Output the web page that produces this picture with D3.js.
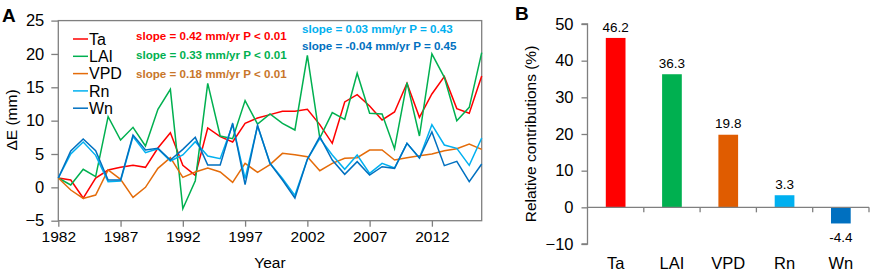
<!DOCTYPE html>
<html>
<head>
    <meta charset="utf-8" />
    <script src="https://d3js.org/d3.v7.min.js"></script>
    <style>
        body { margin: 0; background: #fff; }
        svg { font-family: "Liberation Sans", Arial, sans-serif; }
        .axis path, .axis line { stroke: #7f7f7f; stroke-width: 1.3; }
        .axis text { font-size: 15.5px; fill: #000; }
    </style>
</head>
<body>
    <div id="chart"></div>
    <script>
        // panel A data
        const years = d3.range(1982, 2017);
        const ta = [1.4, 1.1, -1.6, 1.4, 2.6, 3.0, 3.3, 3.0, 5.9, 8.2, 3.3, 1.8, 8.9, 7.6, 6.8, 9.6, 10.4, 10.9, 11.4, 11.4,
            11.7, 9.4, 6.6, 12.8, 13.9, 12.2, 10.1, 11.3, 15.6, 10.5, 14.0, 16.6, 11.8, 11.1, 16.7];
        const lai = [1.4, 0.35, 2.7, 1.6, 10.6, 7.1, 9.0, 6.2, 11.7, 14.7, -3.2, 1.0, 15.6, 7.7, 7.3, 13.0, 9.5, 11.0, 9.6, 8.6,
            19.8, 7.4, 11.2, 10.2, 17.1, 11.1, 11.0, 5.8, 15.7, 7.7, 20.0, 16.5, 10.0, 12.0, 20.2];
        const vpd = [1.4, -0.4, -1.65, -1.15, 2.6, 1.2, -1.5, 0.0, 2.85, 4.45, 1.5, 2.3, 2.9, 2.3, 0.75, 3.6, 2.25, 3.4, 5.1, 4.9,
            4.6, 2.5, 3.6, 4.35, 4.45, 5.6, 5.6, 4.1, 4.45, 4.75, 5.0, 5.5, 5.8, 6.5, 5.7];
        const rn = [1.4, 5.0, 6.8, 4.8, 0.85, 0.95, 7.6, 5.2, 5.8, 3.95, 4.85, 6.85, 4.7, 4.3, 9.4, 1.3, 9.2, 3.6, 1.35, -1.2,
            4.2, 7.35, 4.85, 2.7, 4.85, 2.1, 3.6, 2.9, 6.6, 4.4, 9.4, 6.35, 5.85, 3.3, 7.4];
        const wn = [1.4, 5.45, 7.25, 5.5, 1.1, 1.1, 7.85, 5.6, 5.85, 4.1, 5.7, 7.5, 3.35, 3.35, 9.6, 0.4, 9.3, 3.6, 1.1, -1.6,
            4.2, 7.6, 4.1, 1.95, 3.85, 1.85, 3.1, 2.85, 6.6, 4.4, 8.3, 3.25, 3.9, 0.85, 3.5];
        const yearTicks = [1982, 1987, 1992, 1997, 2002, 2007, 2012];
        const deTicks = [-5, 0, 5, 10, 15, 20, 25];

        // panel B data
        const drivers = ["Ta", "LAI", "VPD", "Rn", "Wn"];
        const contrib = [46.2, 36.3, 19.8, 3.3, -4.4];
        const contribTicks = [-10, 0, 10, 20, 30, 40, 50];

        const colors = {
            Ta: "#ff0000", LAI: "#00b050", VPD: "#e46c0a", Rn: "#00b0f0", Wn: "#0070c0"
        };
        const series = [
            { name: "Ta", values: ta },
            { name: "LAI", values: lai },
            { name: "VPD", values: vpd },
            { name: "Rn", values: rn },
            { name: "Wn", values: wn }
        ];
        const slopes = [
            { text: "slope = 0.42 mm/yr P < 0.01", color: "#ff0000", x: 136, y: 36 },
            { text: "slope = 0.33 mm/yr P < 0.01", color: "#00b050", x: 136, y: 54.5 },
            { text: "slope = 0.18 mm/yr P < 0.01", color: "#c8762a", x: 136, y: 74 },
            { text: "slope = 0.03 mm/yr P = 0.43", color: "#00b0f0", x: 302, y: 28.5 },
            { text: "slope = -0.04 mm/yr P = 0.45", color: "#0070c0", x: 302, y: 45.5 }
        ];

        const svg = d3.select("#chart")
            .append("svg")
            .attr("width", 872)
            .attr("height", 271);

        // ---------- panel A ----------
        const xA = d3.scaleLinear().domain([1982, 2016]).range([58.3, 481.7]);
        const yA = d3.scaleLinear().domain([-5, 25]).range([220.7, 20.6]);

        const gA = svg.append("g");

        // frame
        gA.append("rect")
            .attr("x", xA(1982)).attr("y", yA(25))
            .attr("width", xA(2016) - xA(1982))
            .attr("height", yA(-5) - yA(25))
            .attr("fill", "none")
            .attr("stroke", "#7f7f7f")
            .attr("stroke-width", 1.3);

        gA.append("g")
            .attr("class", "axis")
            .attr("transform", `translate(0, ${yA(-5)})`)
            .call(d3.axisBottom(xA).tickValues(yearTicks).tickFormat(d3.format("d")).tickSize(6).tickPadding(4))
            .call(g => g.select(".domain").remove());

        gA.append("g")
            .attr("class", "axis")
            .attr("transform", `translate(${xA(1982)}, 0)`)
            .call(d3.axisLeft(yA).tickValues(deTicks).tickSize(7).tickPadding(7))
            .call(g => g.select(".domain").remove())
            .selectAll("text").style("font-size", "16.5px");

        const line = d3.line()
            .x((d, i) => xA(years[i]))
            .y(d => yA(d));

        gA.selectAll(".series")
            .data(series)
            .enter().append("path")
            .attr("class", "series")
            .attr("d", d => line(d.values))
            .attr("fill", "none")
            .attr("stroke", d => colors[d.name])
            .attr("stroke-width", 1.5)
            .attr("stroke-linejoin", "miter");

        // legend
        const legend = gA.selectAll(".leg")
            .data(series)
            .enter().append("g")
            .attr("class", "leg")
            .attr("transform", (d, i) => `translate(73, ${39 + i * 17.3})`);
        legend.append("line")
            .attr("x1", 0).attr("x2", 15)
            .attr("stroke", d => colors[d.name])
            .attr("stroke-width", 1.5);
        legend.append("text")
            .attr("x", 16)
            .attr("dy", "0.35em")
            .style("font-size", "16px")
            .text(d => d.name);

        gA.selectAll(".slope")
            .data(slopes)
            .enter().append("text")
            .attr("class", "slope")
            .attr("x", d => d.x)
            .attr("y", d => d.y)
            .attr("dy", "0.35em")
            .attr("fill", d => d.color)
            .style("font-size", "11.6px")
            .style("font-weight", "bold")
            .text(d => d.text);

        // labels
        svg.append("text")
            .attr("x", 2).attr("y", 22)
            .style("font-size", "19px").style("font-weight", "bold")
            .text("A");
        svg.append("text")
            .attr("x", 270).attr("y", 263)
            .attr("dy", "0.35em")
            .style("text-anchor", "middle")
            .style("font-size", "15.5px")
            .text("Year");
        svg.append("text")
            .attr("transform", "translate(12, 120) rotate(-90)")
            .attr("dy", "0.35em")
            .style("text-anchor", "middle")
            .style("font-size", "15.5px")
            .text("ΔE (mm)");

        // ---------- panel B ----------
        const xB = d3.scaleBand().domain(drivers).range([587.5, 869]).padding(0);
        const yB = d3.scaleLinear().domain([-10, 50]).range([244, 24]);
        const barW = xB.bandwidth() * 0.35;

        const gB = svg.append("g");

        gB.append("g")
            .attr("class", "axis")
            .attr("transform", `translate(587.5, 0)`)
            .call(d3.axisLeft(yB).tickValues(contribTicks).tickSize(6).tickPadding(8))
            .call(g => g.select(".domain").attr("d", `M-6,${yB(50)}H0V${yB(-10)}H-6`))
            .selectAll("text").style("font-size", "16.5px");

        gB.selectAll(".bar")
            .data(contrib)
            .enter().append("rect")
            .attr("class", "bar")
            .attr("x", (d, i) => xB(drivers[i]) + (xB.bandwidth() - barW) / 2)
            .attr("y", d => yB(Math.max(0, d)))
            .attr("width", barW)
            .attr("height", d => Math.abs(yB(d) - yB(0)))
            .attr("fill", (d, i) => i === 2 ? "#e05c00" : colors[drivers[i]]);

        // zero line with ticks between categories
        gB.append("line")
            .attr("x1", 587.5).attr("x2", 869)
            .attr("y1", yB(0)).attr("y2", yB(0))
            .attr("stroke", "#7f7f7f").attr("stroke-width", 1.3);
        gB.selectAll(".ztick")
            .data(drivers)
            .enter().append("line")
            .attr("class", "ztick")
            .attr("x1", d => xB(d) + xB.bandwidth())
            .attr("x2", d => xB(d) + xB.bandwidth())
            .attr("y1", yB(0)).attr("y2", yB(0) + 5)
            .attr("stroke", "#7f7f7f").attr("stroke-width", 1.3);

        gB.selectAll(".val")
            .data(contrib)
            .enter().append("text")
            .attr("class", "val")
            .attr("x", (d, i) => xB(drivers[i]) + xB.bandwidth() / 2)
            .attr("y", d => d >= 0 ? yB(d) - 11 : yB(d) + 14)
            .attr("dy", "0.35em")
            .style("text-anchor", "middle")
            .style("font-size", "13.5px")
            .text(d => d.toFixed(1));

        gB.selectAll(".cat")
            .data(drivers)
            .enter().append("text")
            .attr("class", "cat")
            .attr("x", d => xB(d) + xB.bandwidth() / 2)
            .attr("y", 263)
            .attr("dy", "0.35em")
            .style("text-anchor", "middle")
            .style("font-size", "16.5px")
            .text(d => d);

        svg.append("text")
            .attr("x", 515).attr("y", 20)
            .style("font-size", "19px").style("font-weight", "bold")
            .text("B");
        svg.append("text")
            .attr("transform", "translate(531, 134) rotate(-90)")
            .attr("dy", "0.35em")
            .style("text-anchor", "middle")
            .style("font-size", "15.5px")
            .text("Relative contributions (%)");
    </script>
</body>
</html>
